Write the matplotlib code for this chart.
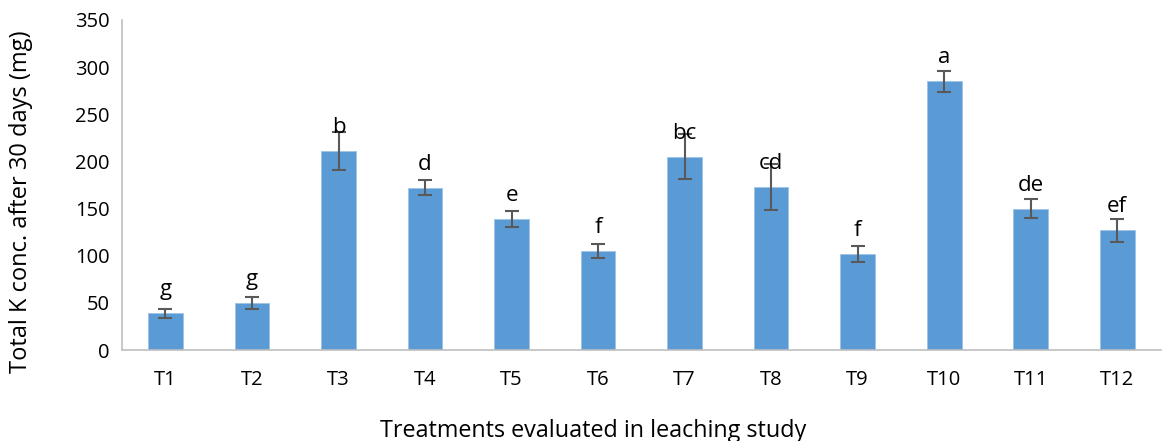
import matplotlib
matplotlib.use('Agg')
import matplotlib.pyplot as plt

# treatments and values
treatments = ['T1', 'T2', 'T3', 'T4', 'T5', 'T6', 'T7', 'T8', 'T9', 'T10', 'T11', 'T12']
potassium = [39, 50, 211, 172, 139, 105, 205, 173, 102, 285, 150, 127]
errors = [5, 6, 20, 8, 8, 7.5, 24, 24, 8.5, 11, 10, 12.5]
letters = ['g', 'g', 'b', 'd', 'e', 'f', 'bc', 'cd', 'f', 'a', 'de', 'ef']

plt.rcParams['font.family'] = ['Open Sans', 'DejaVu Sans']

fig = plt.figure(figsize=(11.64, 4.41), dpi=100)
ax = fig.add_axes([0.105, 0.206, 0.892, 0.749])

x = list(range(len(treatments)))
ax.bar(x, potassium, width=0.4, color='#5B9BD5', edgecolor='#9DC3E6', linewidth=0.6,
       yerr=errors, error_kw=dict(ecolor='#595959', elinewidth=1.5, capsize=5, capthick=1.5))

for xi, v, lab in zip(x, potassium, letters):
    ax.annotate(lab, (xi, v), xytext=(0, 13), textcoords='offset points',
                ha='center', va='baseline', fontsize=16)

ax.set_xlim(-0.5, 11.5)
ax.set_ylim(0, 350)
ax.set_yticks(range(0, 351, 50))
ax.set_xticks(x)
ax.set_xticklabels(treatments)
ax.tick_params(axis='both', length=0, labelsize=14.5, colors='#000000')
ax.tick_params(axis='y', pad=9)
ax.tick_params(axis='x', pad=14)

for side in ['top', 'right']:
    ax.spines[side].set_visible(False)
for side in ['left', 'bottom']:
    ax.spines[side].set_color('#BFBFBF')
    ax.spines[side].set_linewidth(1.2)

ax.set_ylabel('Total K conc. after 30 days (mg)', fontsize=17)
ax.set_xlabel('Treatments evaluated in leaching study', fontsize=16.8)
ax.yaxis.set_label_coords(-0.086, 0.45)
ax.xaxis.set_label_coords(0.454, -0.208)

fig.savefig('out.png', dpi=100)
